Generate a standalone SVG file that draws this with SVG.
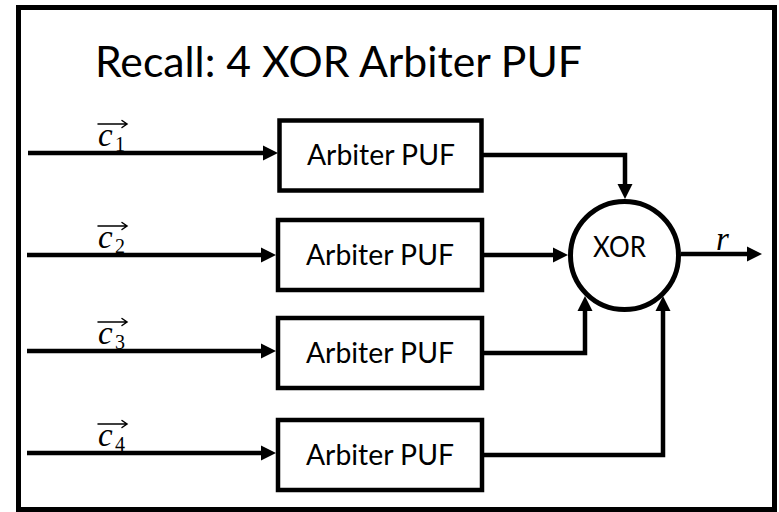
<svg xmlns="http://www.w3.org/2000/svg" width="779" height="512" viewBox="0 0 779 512">
<style>
.frame{fill:#fff;stroke:#000;stroke-width:5}
.box{fill:#fff;stroke:#000;stroke-width:4.5}
.lbl{font-family:Lato,"Liberation Sans",sans-serif;font-size:29px;fill:#000;text-anchor:middle}
.title{font-family:Lato,"Liberation Sans",sans-serif;font-size:42px;fill:#000}
.wire{fill:none;stroke:#000;stroke-width:4.5;stroke-linejoin:miter}
.math{font-family:"Liberation Serif",serif;font-style:italic;font-size:33px;fill:#000}
.sub{font-family:"Liberation Serif",serif;font-size:20px;fill:#000}
.vec{fill:none;stroke:#000;stroke-width:1.5;stroke-linecap:round}
</style>
<defs>
<marker id="ah" markerUnits="userSpaceOnUse" markerWidth="16" markerHeight="16" viewBox="0 -8 16 16" refX="3" refY="0" orient="auto">
<path d="M0,-7.5 L15,0 L0,7.5 z" fill="#000"/>
</marker>
</defs>
<rect class="frame" x="18.5" y="7.5" width="756" height="502"/>
<text class="title" x="95" y="77" textLength="487" lengthAdjust="spacingAndGlyphs">Recall: 4 XOR Arbiter PUF</text>

<g id="connectors">
<path class="wire" d="M28,153 H266" marker-end="url(#ah)"/>
<path class="wire" d="M27,255 H264" marker-end="url(#ah)"/>
<path class="wire" d="M27,351 H264" marker-end="url(#ah)"/>
<path class="wire" d="M27,453 H264" marker-end="url(#ah)"/>
<path class="wire" d="M482,155 H625 V187" marker-end="url(#ah)"/>
<path class="wire" d="M482,255 H556" marker-end="url(#ah)"/>
<path class="wire" d="M482,353 H585 V308" marker-end="url(#ah)"/>
<path class="wire" d="M482,455 H663 V308" marker-end="url(#ah)"/>
<path class="wire" d="M681,254 H750" marker-end="url(#ah)"/>
</g>

<g id="label-c1">
<text class="math" x="98" y="146">c</text><text class="sub" x="115" y="151">1</text>
<path class="vec" d="M98,124 H127 M122,120.5 L127,124 L122,127.5"/>
</g>
<g id="label-c2">
<text class="math" x="98" y="248">c</text><text class="sub" x="115" y="253">2</text>
<path class="vec" d="M98,226 H127 M122,222.5 L127,226 L122,229.5"/>
</g>
<g id="label-c3">
<text class="math" x="98" y="344">c</text><text class="sub" x="115" y="349">3</text>
<path class="vec" d="M98,322 H127 M122,318.5 L127,322 L122,325.5"/>
</g>
<g id="label-c4">
<text class="math" x="98" y="446">c</text><text class="sub" x="115" y="451">4</text>
<path class="vec" d="M98,424 H127 M122,420.5 L127,424 L122,427.5"/>
</g>
<g id="label-r">
<text class="math" x="716" y="250">r</text>
</g>

<g id="puf1">
<rect class="box" x="279.5" y="120.5" width="202" height="70"/>
<text class="lbl" x="381" y="165" textLength="148" lengthAdjust="spacingAndGlyphs">Arbiter PUF</text>
</g>
<g id="puf2">
<rect class="box" x="278" y="220" width="204" height="70"/>
<text class="lbl" x="380" y="265" textLength="148" lengthAdjust="spacingAndGlyphs">Arbiter PUF</text>
</g>
<g id="puf3">
<rect class="box" x="278" y="318" width="204" height="70"/>
<text class="lbl" x="380" y="363" textLength="148" lengthAdjust="spacingAndGlyphs">Arbiter PUF</text>
</g>
<g id="puf4">
<rect class="box" x="278" y="420" width="204" height="70"/>
<text class="lbl" x="380" y="465" textLength="148" lengthAdjust="spacingAndGlyphs">Arbiter PUF</text>
</g>
<g id="xor">
<circle cx="624.5" cy="255.5" r="54" fill="#fff" stroke="#000" stroke-width="5"/>
<text class="lbl" x="619.5" y="257" textLength="53" lengthAdjust="spacingAndGlyphs">XOR</text>
</g>
</svg>
